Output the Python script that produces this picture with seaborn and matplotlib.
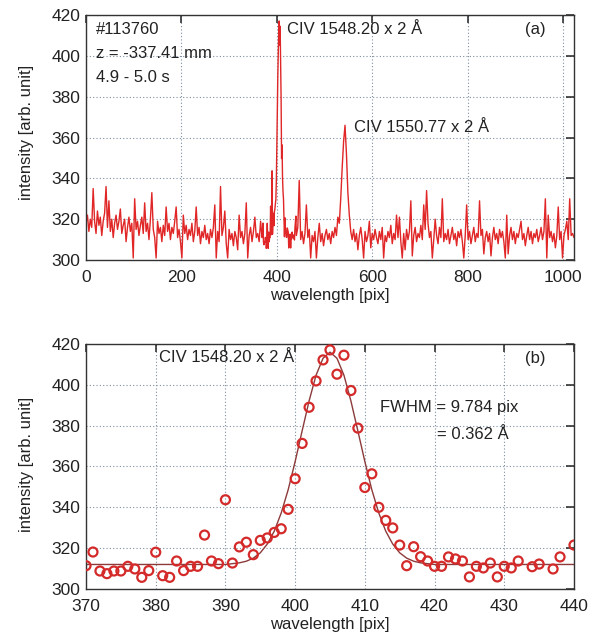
import numpy as np
import pandas as pd
import matplotlib
matplotlib.use('Agg')
import matplotlib.pyplot as plt
import seaborn as sns

# spectrum, every 3 pix outside the CIV 1548 line
left_start, left_step = 0, 3
spec_left = [318, 322, 314, 320, 316, 335, 319, 313, 324, 317, 321, 312, 319, 323, 336, 316,
             329, 314, 320, 311, 318, 322, 315, 319, 325, 313, 317, 320, 309, 316, 321, 314,
             318, 301, 330, 315, 319, 312, 317, 321, 313, 328, 314, 318, 310, 320, 333, 315,
             311, 301, 319, 313, 316, 309, 317, 312, 326, 314, 318, 310, 316, 313, 319, 326,
             311, 315, 309, 301, 322, 313, 317, 310, 315, 312, 318, 309, 314, 326, 312, 316,
             308, 314, 311, 317, 310, 313, 308, 315, 311, 316, 327, 301, 314, 309, 336, 312,
             316, 324, 308, 301, 315, 310, 313, 307, 314, 311, 305, 322, 311, 314, 308, 313,
             328, 301, 312, 316, 309, 314, 321, 311, 313, 309, 319, 311]
right_start, right_step = 441, 3
spec_right = [312, 316, 339, 310, 314, 308, 313, 327, 311, 315, 301, 312, 309, 314, 301, 311,
              318, 309, 313, 307, 312, 315, 310, 313, 308, 314, 311, 316, 312, 321, 318, 330,
              345, 358, 366, 352, 333, 322, 314, 310, 315, 309, 313, 305, 312, 316, 310, 301,
              314, 309, 312, 319, 306, 313, 310, 315, 311, 308, 314, 310, 316, 301, 312, 309,
              314, 311, 317, 308, 313, 310, 322, 311, 321, 309, 301, 313, 305, 315, 310, 314,
              329, 302, 312, 316, 309, 313, 311, 317, 310, 327, 315, 334, 318, 311, 314, 301,
              310, 320, 312, 308, 316, 311, 330, 309, 313, 310, 315, 308, 312, 316, 310, 313,
              307, 314, 311, 315, 309, 301, 312, 327, 310, 314, 308, 312, 316, 309, 313, 311,
              329, 312, 315, 303, 311, 314, 309, 313, 302, 311, 316, 310, 313, 308, 315, 311,
              314, 309, 301, 322, 303, 312, 316, 310, 314, 308, 313, 311, 315, 319, 310, 313,
              307, 312, 316, 310, 314, 308, 313, 311, 315, 309, 312, 316, 310, 314, 330, 301,
              322, 311, 314, 309, 313, 306, 312, 326, 310, 314, 301, 312, 315, 319, 310, 330,
              312, 313, 311]

# panel (b): measured points around the CIV 1548.20 line
pix_b = list(range(370, 433)) + [434, 435, 437, 438, 440]
int_b = [311.4, 318.1, 308.8, 307.5, 308.8, 308.8, 311.1, 309.8, 305.7, 309.0,
         318.0, 306.5, 305.7, 313.7, 309.0, 311.1, 311.1, 326.4, 313.7, 312.4,
         343.7, 312.7, 320.6, 322.9, 316.8, 323.8, 325.0, 327.7, 329.5, 339.0,
         354.0, 371.3, 389.0, 401.9, 412.2, 417.1, 405.2, 414.5, 397.2, 378.8,
         349.7, 356.4, 340.0, 333.6, 329.9, 321.5, 311.4, 320.7, 315.8, 313.7,
         311.1, 311.1, 315.7, 314.7, 313.7, 305.9, 311.1, 310.3, 312.7, 305.9,
         311.1, 310.3, 313.7,
         310.9, 312.2, 309.8, 315.7, 321.5]

# gaussian fit curve as drawn
fit_x = list(range(370, 441))
fit_y = [312] * 21 + [312.4, 312.8, 313.6, 315.1, 317.7, 322.0, 328.3, 337.2, 348.6, 362.4,
                      377.4, 392.1, 404.7, 413.0, 416.0, 413.0, 404.7, 392.1, 377.4, 362.4,
                      348.6, 337.2, 328.3, 322.0, 317.7, 315.1, 313.6, 312.8, 312.4] + [312] * 21

x_left = list(range(left_start, left_start + left_step * len(spec_left), left_step))
x_right = list(range(right_start, right_start + right_step * len(spec_right), right_step))
spec = pd.DataFrame({'pix': x_left + pix_b + x_right,
                     'intensity': spec_left + int_b + spec_right})
pts = pd.DataFrame({'pix': pix_b, 'intensity': int_b})
fit = pd.DataFrame({'pix': fit_x, 'intensity': fit_y})

sns.set_style('white')
plt.rcParams['font.family'] = ['Liberation Sans', 'DejaVu Sans']

fig = plt.figure(figsize=(5.94, 6.37), dpi=100)
ax1 = fig.add_axes([0.1448, 0.5918, 0.8215, 0.3846])
ax2 = fig.add_axes([0.1448, 0.0754, 0.8215, 0.3846])

sns.lineplot(data=spec, x='pix', y='intensity', ax=ax1, sort=False, estimator=None,
             color='#e02626', lw=1.0)
sns.lineplot(data=fit, x='pix', y='intensity', ax=ax2, sort=False, estimator=None,
             color='#8c3a3a', lw=1.0)
sns.scatterplot(data=pts, x='pix', y='intensity', ax=ax2, marker='o', s=42,
                facecolor='none', edgecolor='#d42a2a', linewidth=1.6, zorder=3)

def style(ax, xticks, xlim):
    ax.set_xlim(*xlim)
    ax.set_ylim(300, 420)
    ax.set_xticks(xticks)
    ax.set_yticks(range(300, 421, 20))
    ax.grid(True, color='#7d8ea0', ls=(0, (1, 2)), lw=0.8)
    ax.set_axisbelow(True)
    ax.tick_params(direction='in', length=6, width=1.1, color='#222222',
                   top=True, right=True, labelsize=12.5, labelcolor='#222222')
    ax.tick_params(axis='x', pad=7)
    ax.tick_params(axis='y', pad=4)
    for s in ax.spines.values():
        s.set_color('#333333')
        s.set_linewidth(1.0)
    ax.set_xlabel('wavelength [pix]', fontsize=12, color='#222222')
    ax.set_ylabel('intensity [arb. unit]', fontsize=12, color='#222222')
    ax.xaxis.set_label_coords(0.5, -0.115)

style(ax1, range(0, 1001, 200), (0, 1023))
style(ax2, range(370, 441, 10), (370, 440))
ax1.yaxis.set_label_coords(-0.106, 0.52)
ax2.yaxis.set_label_coords(-0.106, 0.51)

kw = dict(fontsize=12, color='#222222', va='center', ha='left')
ax1.text(0.0205, 0.939, '#113760', transform=ax1.transAxes, **kw)
ax1.text(0.0205, 0.845, 'z = -337.41 mm', transform=ax1.transAxes, **kw)
ax1.text(0.0205, 0.747, '4.9 - 5.0 s', transform=ax1.transAxes, **kw)
ax1.text(0.412, 0.939, 'CIV 1548.20 x 2 Å', transform=ax1.transAxes, **kw)
ax1.text(0.90, 0.939, '(a)', transform=ax1.transAxes, **kw)
ax1.text(0.549, 0.539, 'CIV 1550.77 x 2 Å', transform=ax1.transAxes, **kw)

ax2.text(0.1496, 0.943, 'CIV 1548.20 x 2 Å', transform=ax2.transAxes, **kw)
ax2.text(0.90, 0.939, '(b)', transform=ax2.transAxes, **kw)
ax2.text(0.602, 0.739, 'FWHM = 9.784 pix', transform=ax2.transAxes, **kw)
ax2.text(0.7187, 0.629, '= 0.362 Å', transform=ax2.transAxes, **kw)

fig.savefig('out.png', dpi=100, facecolor='white')
